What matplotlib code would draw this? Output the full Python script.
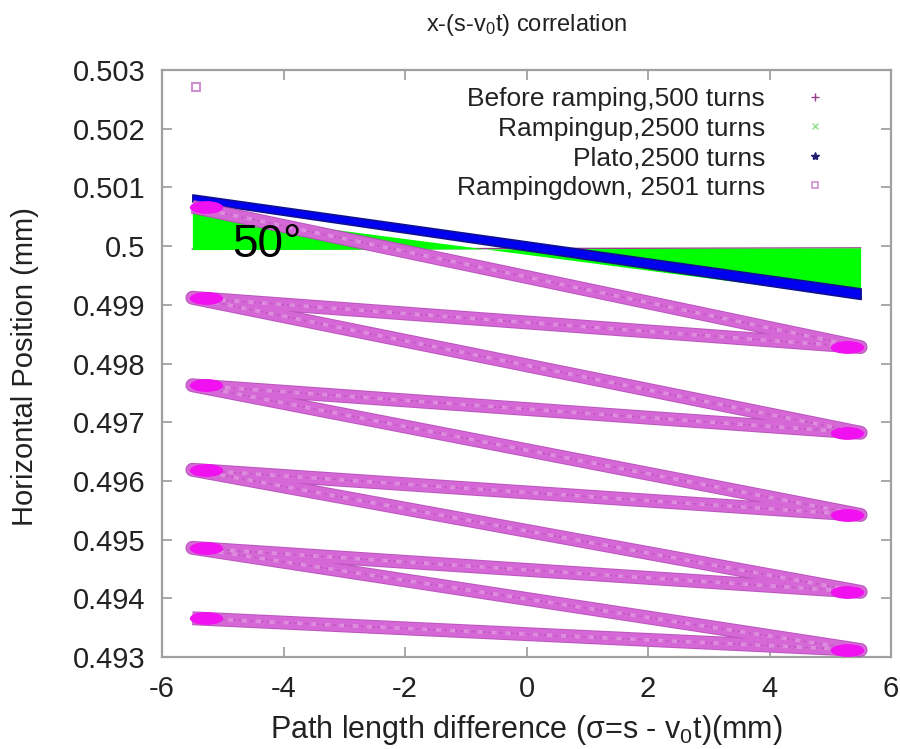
import numpy as np
import matplotlib
matplotlib.use("Agg")
import matplotlib.pyplot as plt
import matplotlib.patheffects as pe
from matplotlib.lines import Line2D
from matplotlib.path import Path
from matplotlib.transforms import Affine2D
from matplotlib.ticker import FormatStrFormatter

plt.rcParams['font.family'] = ['Liberation Sans', 'DejaVu Sans']
plt.rcParams['mathtext.default'] = 'regular'
plt.rcParams['axes.unicode_minus'] = False

# Rampingdown: turning points of the zigzag trace (mm)
down_x = [-5.5, 5.5, -5.5, 5.5, -5.5, 5.5, -5.5, 5.5, -5.5, 5.5, -5.5]
down_y = [0.50067, 0.49828, 0.49912, 0.49682, 0.49763, 0.49542,
          0.49619, 0.49411, 0.49486, 0.49312, 0.49366]
stray_x = [-5.44]
stray_y = [0.50271]

# Plato band edges
plato_x = [-5.5, 5.5]
plato_top = [0.50088, 0.49928]
plato_bot = [0.50076, 0.49910]

# Rampingup wedge edges
ramp_x = [-5.5, 5.5]
ramp_flat = [0.49994, 0.49997]
ramp_slope = [0.50060, 0.49912]

# Before ramping
before_x = [-5.5, 5.5]
before_y = [0.49995, 0.49997]

labels = ['Before ramping,500 turns', 'Rampingup,2500 turns',
          'Plato,2500 turns', 'Rampingdown, 2501 turns']

fig = plt.figure(figsize=(9, 7.49), dpi=100)
ax = fig.add_axes([0.18, 0.1228, 0.81, 0.7837])

ax.plot(before_x, before_y, color='#9a3d8a', lw=1, zorder=1)
ax.fill_between(ramp_x, ramp_flat, ramp_slope, color='#00ff00', lw=0, zorder=2)
ax.fill_between(plato_x, plato_bot, plato_top, facecolor='#0000f0',
                edgecolor='#101090', lw=1.2, zorder=3)

ax.plot(down_x, down_y, color='#d86ad9', lw=8.5, solid_joinstyle='round',
        solid_capstyle='butt', zorder=4, alpha=0.92,
        path_effects=[pe.Stroke(linewidth=10, foreground='#b548b8', alpha=0.92),
                      pe.Normal()])
ax.plot(down_x, down_y, color='#a848a8', lw=1, ls=(0, (2, 2)),
        zorder=4.5, alpha=0.5)
ax.plot(down_x, down_y, color='#eaa8ea', lw=2.5, ls=(0, (1.5, 2.5)),
        zorder=4.6, alpha=0.6)

ellipse = Path.unit_circle().transformed(Affine2D().scale(2.6, 1))
tip_x = [x * 0.96 for x in down_x]
ax.plot(tip_x, down_y, ls='none', marker=ellipse, ms=24, color='#f010f0',
        mec='none', zorder=5)
ax.plot(stray_x, stray_y, ls='none', marker='s', ms=6, mfc='none',
        mec='#d090d0', mew=1.5, zorder=5)

ax.text(-4.85, 0.50002, '50°', fontsize=33, color='black', ha='left',
        va='center', zorder=6)

ax.set_xlim(-6, 6)
ax.set_ylim(0.493, 0.503)
ax.set_xticks(np.arange(-6, 7, 2))
ax.set_yticks(np.arange(0.493, 0.5031, 0.001))
ax.yaxis.set_major_formatter(FormatStrFormatter('%g'))
ax.tick_params(direction='in', length=7, width=1.2, color='#999999',
               labelsize=21, labelcolor='#222222', top=True, right=True)
ax.tick_params(axis='y', pad=12)
ax.tick_params(axis='x', pad=13)
for sp in ax.spines.values():
    sp.set_color('#a0a0a0')
    sp.set_linewidth(1.6)

ax.set_title('x-(s-v$_0$t) correlation', fontsize=17, color='#222222', pad=28)
ax.set_xlabel('Path length difference (σ=s - v$_0$t)(mm)', fontsize=22,
              color='#222222')
ax.xaxis.set_label_coords(0.5, -0.095)
ax.set_ylabel('Horizontal Position (mm)', fontsize=21, color='#222222')
ax.yaxis.set_label_coords(-0.188, 0.495)
ax.yaxis.label.set_va('center')

handles = [
    Line2D([], [], ls='none', marker='+', ms=6, color='#9a3d8a', mew=1),
    Line2D([], [], ls='none', marker='x', ms=4, color='#90e090', mew=1),
    Line2D([], [], ls='none', marker='*', ms=6, color='#202070'),
    Line2D([], [], ls='none', marker='s', ms=5, mfc='none', mec='#d090d0', mew=1.2),
]
leg = ax.legend(handles, labels, loc='upper right', bbox_to_anchor=(0.932, 0.971),
                frameon=False, markerfirst=False, fontsize=19, labelspacing=0.21,
                handlelength=2, handletextpad=0.9, borderpad=0, borderaxespad=0)
for t in leg.get_texts():
    t.set_color('#222222')

fig.savefig('out.png', dpi=100)
